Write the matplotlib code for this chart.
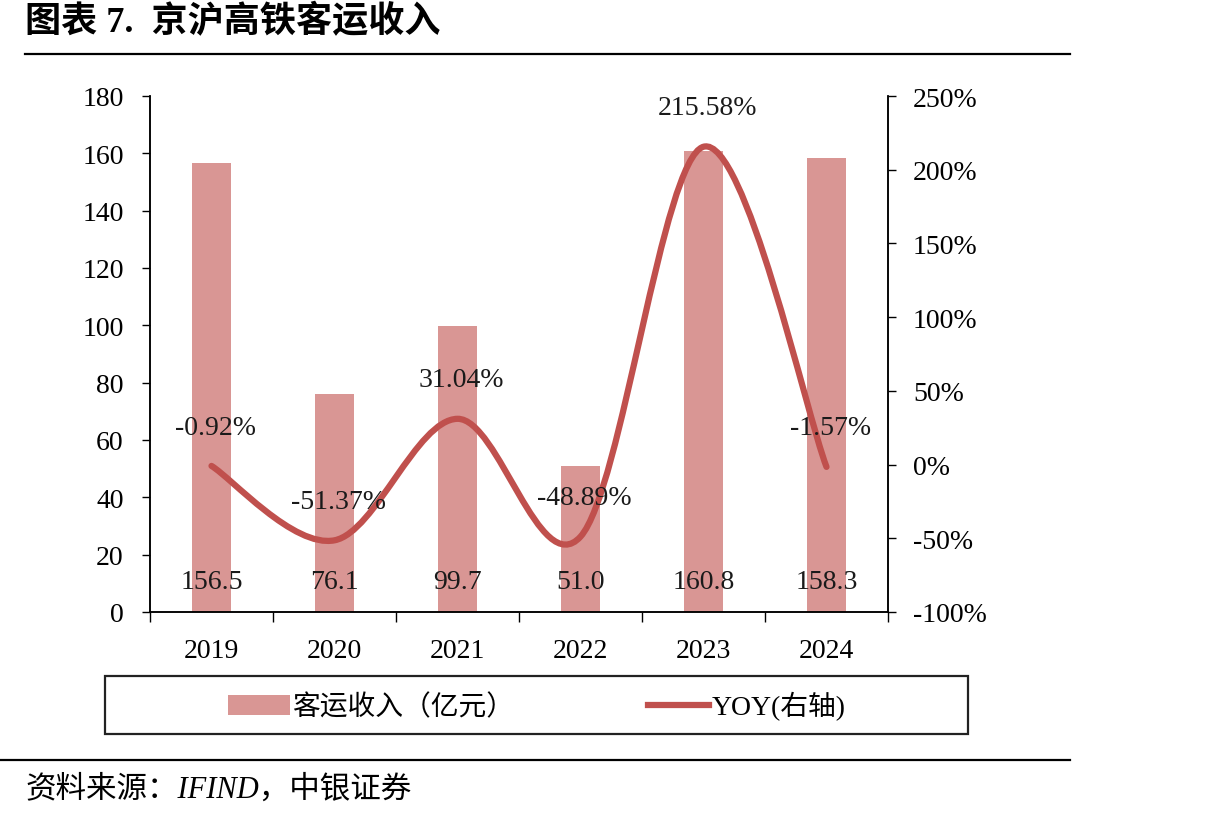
import numpy as np
import matplotlib.pyplot as plt
from matplotlib.path import Path
from matplotlib.patches import PathPatch, Rectangle, Patch
from matplotlib.lines import Line2D
from matplotlib.ticker import FixedLocator, FuncFormatter

# data
years = ['2019', '2020', '2021', '2022', '2023', '2024']
revenue = [156.5, 76.1, 99.7, 51.0, 160.8, 158.3]       # 客运收入（亿元）
yoy = [-0.92, -51.37, 31.04, -48.89, 215.58, -1.57]     # YOY, %
left_ticks = [0, 20, 40, 60, 80, 100, 120, 140, 160, 180]
right_ticks = [-100, -50, 0, 50, 100, 150, 200, 250]

serif = ['Liberation Serif', 'Noto Sans CJK SC']
plt.rcParams['font.family'] = serif
plt.rcParams['axes.unicode_minus'] = False

bar_color = '#D99694'
line_color = '#C0504D'

fig = plt.figure(figsize=(12.11, 8.2), dpi=100)
ax = fig.add_axes([150 / 1211, 1 - 613 / 820, 738 / 1211, 516 / 820])
ax2 = ax.twinx()

x = np.arange(len(years))
ax.bar(x, revenue, width=0.31, color=bar_color, zorder=2)
ax.set_xlim(-0.5, len(years) - 0.5)
ax.set_ylim(0, 180)
ax.set_yticks(left_ticks)
ax.tick_params(axis='y', labelsize=20, length=6, width=1, pad=13, direction='out')
ax.set_xticks(x)
ax.set_xticklabels(years)
ax.tick_params(axis='x', which='major', length=0, labelsize=20, pad=19)
ax.xaxis.set_minor_locator(FixedLocator(np.arange(-0.5, len(years), 1.0)))
ax.tick_params(axis='x', which='minor', length=7, width=1, direction='out')
ax.spines['top'].set_visible(False)
ax2.spines['top'].set_visible(False)
for s in ['left', 'bottom', 'right']:
    ax.spines[s].set_linewidth(1.1)
    ax2.spines[s].set_linewidth(1.1)

ax2.set_ylim(-100, 250)
ax2.set_yticks(right_ticks)
ax2.yaxis.set_major_formatter(FuncFormatter(lambda v, p: f'{v:.0f}%'))
ax2.tick_params(axis='y', labelsize=20, length=6, width=1, pad=12, direction='out')

# smoothed line (bezier through the points, like excel "smoothed line")
pts = np.column_stack([x, yoy]).astype(float)
verts = [pts[0]]
codes = [Path.MOVETO]
n = len(pts)
for i in range(n - 1):
    p0 = pts[i - 1] if i > 0 else pts[i]
    p1 = pts[i]
    p2 = pts[i + 1]
    p3 = pts[i + 2] if i + 2 < n else pts[i + 1]
    c1 = p1 + (p2 - p0) / 6.0
    c2 = p2 - (p3 - p1) / 6.0
    verts += [c1, c2, p2]
    codes += [Path.CURVE4] * 3
ax2.add_patch(PathPatch(Path(verts, codes), facecolor='none', edgecolor=line_color,
                        linewidth=4.5, capstyle='round', zorder=3))

for i, v in enumerate(revenue):
    ax.annotate(f'{v:.1f}', xy=(i, 0), xytext=(0, 22), textcoords='offset points',
                ha='center', va='center', fontsize=20, color='#1a1a1a', zorder=5)
for i, v in enumerate(yoy):
    ax2.annotate(f'{v:.2f}%', xy=(i, v), xytext=(3, 28), textcoords='offset points',
                 ha='center', va='center', fontsize=20, color='#1a1a1a', zorder=5)

# title, rules, legend box, source
fig.text(25 / 1211, 1 - 23 / 820, '图表 7.  京沪高铁客运收入', fontsize=26, fontweight='bold',
         ha='left', va='center')
fig.add_artist(Line2D([25 / 1211, 1070 / 1211], [1 - 55 / 820] * 2, color='black', lw=1.6))
fig.add_artist(Line2D([0, 1070 / 1211], [1 - 761 / 820] * 2, color='black', lw=1.6))
fig.add_artist(Rectangle((105 / 1211, 1 - 735 / 820), 863 / 1211, 58 / 820, fill=False,
                         edgecolor='#222222', lw=1.6, transform=fig.transFigure))
handles = [Patch(facecolor=bar_color, edgecolor='none'),
           Line2D([0], [0], color=line_color, lw=4.5)]
fig.legend(handles, ['客运收入（亿元）', 'YOY(右轴)'], loc='center',
           bbox_to_anchor=(537 / 1211, 1 - 707 / 820), ncol=2, frameon=False,
           fontsize=20, handlelength=2.2, handletextpad=0.1, columnspacing=4.8)
fig.text(25 / 1211, 1 - 790 / 820, '资料来源：IFIND，中银证券', fontsize=22, style='italic',
         ha='left', va='center')

fig.savefig('out.png', dpi=100)
